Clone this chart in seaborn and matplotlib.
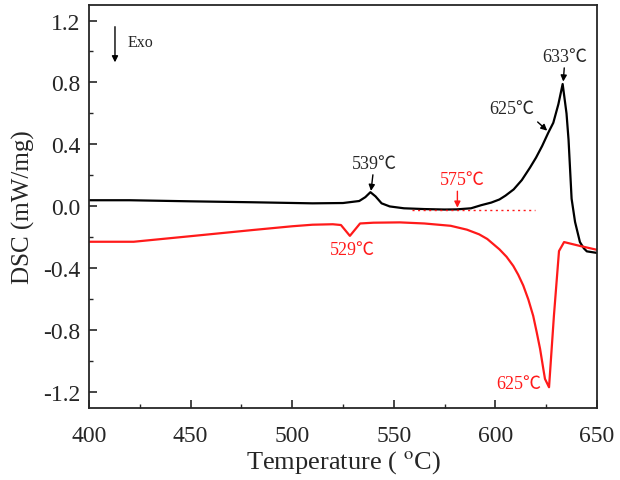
import matplotlib
matplotlib.use("Agg")
import matplotlib.pyplot as plt
from matplotlib.ticker import MultipleLocator
import seaborn as sns

# heating curve (black)
temp_heat = [400, 420, 450, 480, 510, 525, 533, 536, 538.5, 541, 544, 548, 555, 565, 575,
             581, 588, 593, 598, 602, 605, 609, 613, 617, 620, 623, 626, 628.5, 631, 633.1,
             635, 636, 637.5, 639.2, 641.6, 643.5, 645, 650]
dsc_heat = [0.04, 0.04, 0.033, 0.027, 0.02, 0.022, 0.035, 0.06, 0.092, 0.065, 0.02, 0.0, -0.012,
            -0.017, -0.02, -0.019, -0.012, 0.008, 0.025, 0.045, 0.07, 0.11, 0.17, 0.25, 0.315,
            0.39, 0.475, 0.54, 0.66, 0.79, 0.60, 0.43, 0.05, -0.10, -0.23, -0.27, -0.29, -0.30]

# cooling curve (red)
temp_cool = [400, 422, 450, 480, 500, 510, 520, 524, 528.4, 533.4, 540, 553, 565, 578, 586,
             592, 596, 602, 605.5, 608.8, 611.2, 613.7, 616.2, 618.6, 620.3, 622, 623.6, 624.4,
             626.4, 628.8, 631.3, 633.8, 641.6, 650]
dsc_cool = [-0.228, -0.228, -0.192, -0.153, -0.128, -0.118, -0.115, -0.12, -0.19, -0.11, -0.105,
            -0.103, -0.11, -0.125, -0.15, -0.18, -0.21, -0.277, -0.325, -0.384, -0.44, -0.51,
            -0.60, -0.706, -0.81, -0.92, -1.05, -1.113, -1.167, -0.706, -0.288, -0.23, -0.255,
            -0.28]

onset_line_x = [559, 619.5]
onset_line_y = [-0.024, -0.024]

x_ticks = [400, 450, 500, 550, 600, 650]
y_ticks = [-1.2, -0.8, -0.4, 0.0, 0.4, 0.8, 1.2]

sns.set_style("ticks")
plt.rcParams['font.family'] = ['Liberation Serif', 'Noto Sans CJK SC', 'DejaVu Sans']
plt.rcParams['mathtext.fontset'] = 'stix'

fig = plt.figure(figsize=(6.2, 4.81), dpi=100)
ax = fig.add_axes([0.1435, 0.150, 0.8194, 0.8375])

sns.lineplot(x=temp_heat, y=dsc_heat, color='black', lw=1.6, estimator=None, ax=ax)
sns.lineplot(x=temp_cool, y=dsc_cool, color='#ff1a1a', lw=1.6, estimator=None, ax=ax)
ax.plot(onset_line_x, onset_line_y, color='#ff1a1a', lw=1.0, ls=(0, (1.5, 2.5)))

ax.set_xlim(400, 650)
ax.set_ylim(-1.3, 1.3)
ax.set_xticks(x_ticks)
ax.set_yticks(y_ticks)
ax.set_yticklabels([f'{v:.1f}' for v in y_ticks])
ax.xaxis.set_minor_locator(MultipleLocator(25))
ax.yaxis.set_minor_locator(MultipleLocator(0.2))
ax.tick_params(which='major', direction='in', length=6, width=1.2, labelsize=17)
ax.tick_params(axis='x', which='major', pad=12)
ax.tick_params(axis='y', which='major', pad=6)
ax.tick_params(which='minor', direction='in', length=3, width=1.0)
for s in ax.spines.values():
    s.set_linewidth(1.3)
    s.set_visible(True)

ax.set_xlabel('Temperature ( $^{\\mathrm{o}}$C)', fontsize=19, labelpad=2)
ax.set_ylabel('DSC (mW/mg)', fontsize=18, labelpad=6)

arrow = dict(arrowstyle='-|>', color='black', lw=1.0, mutation_scale=9, shrinkA=0, shrinkB=0)
arrow_red = dict(arrow, color='#ff1a1a')

# Exo indicator
ax.annotate('', xy=(412.8, 0.93), xytext=(412.8, 1.16), arrowprops=arrow)
ax.text(419, 1.06, 'Exo', fontsize=11.5, va='center', ha='left')

ax.annotate('539℃', xy=(538.8, 0.10), xytext=(540.4, 0.28), ha='center', va='center',
            fontsize=13, arrowprops=arrow)
ax.annotate('633℃', xy=(633.4, 0.806), xytext=(634.3, 0.97), ha='center', va='center',
            fontsize=13, arrowprops=arrow)
ax.text(608, 0.635, '625℃', fontsize=13, ha='center', va='center')
ax.annotate('', xy=(625.5, 0.489), xytext=(620.8, 0.545), arrowprops=arrow)
ax.annotate('575℃', xy=(581.3, -0.008), xytext=(583.5, 0.174), ha='center', va='center',
            fontsize=13, color='#ff1a1a', arrowprops=dict(arrow_red, relpos=(0.4, 0.0)))
ax.text(529.7, -0.277, '529℃', fontsize=13, ha='center', va='center', color='#ff1a1a')
ax.text(611.3, -1.14, '625℃', fontsize=13, ha='center', va='center', color='#ff1a1a')

fig.savefig('out.png', dpi=100)
